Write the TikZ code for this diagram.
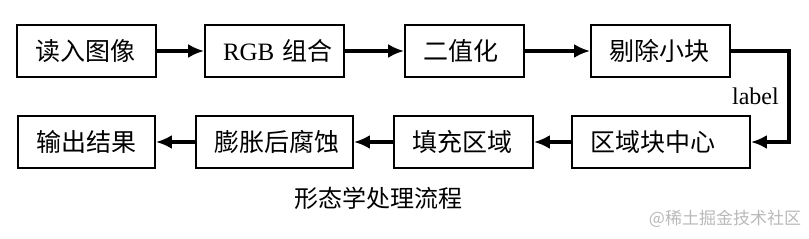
\documentclass[tikz,border=0pt]{standalone}
\usepackage{fontspec}
\setmainfont{Liberation Serif}
\newfontfamily\cjk{Noto Sans CJK SC}
\usetikzlibrary{arrows.meta,positioning}
\definecolor{MarkGray}{RGB}{185,185,185}

\begin{document}
\begin{tikzpicture}[x=0.5pt,y=-0.5pt,
  box/.style={draw,line width=0.9pt,minimum height=26pt,inner ysep=0pt,
              inner xsep=9pt,text width=#1,align=left,
              font=\fontsize{12.5}{15}\selectfont\cjk},
  arr/.style={-{Latex[length=8pt,width=7pt]},line width=1.6pt},
]
\useasboundingbox (0,0) rectangle (809,239);
% top row
\node[box=51.5pt] (read) at (86.5,51) {读入图像};
\node[box=51.5pt] (rgb) at (274.5,51) {\mbox{{\rmfamily RGB} 组合}};
\node[box=41.5pt] (bin) at (464.5,51) {二值化};
\node[box=51.5pt] (small) at (660.5,51) {剔除小块};
% bottom row
\node[box=71pt] (center) at (661,142) {区域块中心};
\node[box=51.5pt] (fill) at (463.5,142) {填充区域};
\node[box=60.5pt] (dil) at (274.5,142) {膨胀后腐蚀};
\node[box=50.5pt] (out) at (86.5,142) {输出结果};
\coordinate (turn) at (789,51);
\draw[arr] (read) -- (rgb);
\draw[arr] (rgb) -- (bin);
\draw[arr] (bin) -- (small);
\draw[arr] (small.east) -- (turn) |- (center.east)
  node[pos=0.25,left=1pt,font=\fontsize{12}{14}\selectfont] {label};
\draw[arr] (center) -- (fill);
\draw[arr] (fill) -- (dil);
\draw[arr] (dil) -- (out);
\node[font=\fontsize{12}{14}\selectfont\cjk] (title) at (378,198) {形态学处理流程};
\node[font=\fontsize{8.5}{10}\selectfont\cjk,text=MarkGray] (mark) at (725,219) {@稀土掘金技术社区};
\end{tikzpicture}
\end{document}
